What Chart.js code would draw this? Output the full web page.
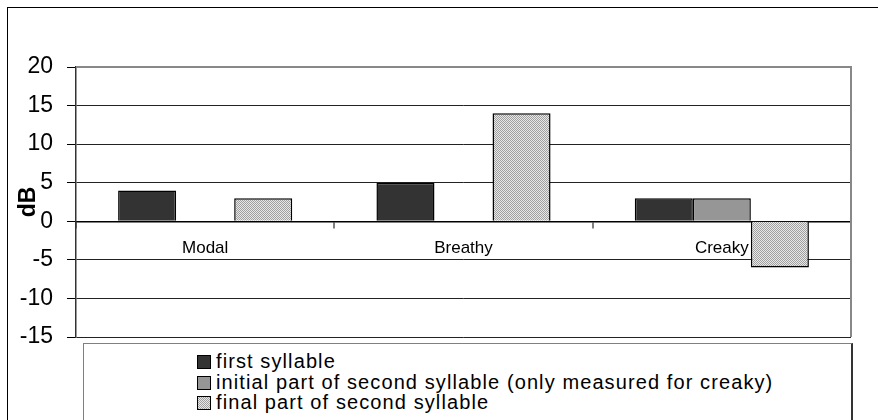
<!DOCTYPE html>
<html lang="en">
<head>
    <meta charset="UTF-8">
    <title>dB by phonation type</title>
    <script src="https://cdn.jsdelivr.net/npm/chart.js"></script>
    <style>
        html, body {
            margin: 0;
            padding: 0;
            width: 878px;
            height: 420px;
            overflow: hidden;
            background: #fff;
            font-family: 'Liberation Sans', Arial, sans-serif;
        }
        #frame {
            position: absolute;
            left: 7px;
            top: 7px;
            width: 900px;
            height: 450px;
            border: 1px solid #000;
        }
        #wrap {
            position: absolute;
            left: 0;
            top: 0;
            width: 878px;
            height: 420px;
        }
        #legend {
            position: absolute;
            left: 83px;
            top: 343px;
            width: 770px;
            height: 100px;
            border: 1px solid #808080;
            border-right: 2px solid #333;
            background: #fff;
            padding: 7px 0 0 113px;
            box-sizing: border-box;
        }
        .row {
            height: 20.5px;
            line-height: 20.5px;
            font-size: 20px;
            letter-spacing: 1.1px;
            color: #000;
            white-space: nowrap;
        }
        .sw {
            display: inline-block;
            width: 12px;
            height: 12px;
            border: 1px solid #000;
            margin-right: 5px;
            vertical-align: -1px;
        }
    </style>
</head>
<body>
    <div id="frame"></div>
    <div id="wrap"><canvas id="chart" width="878" height="420"></canvas></div>
    <div id="legend"></div>

    <script>
        const categories = ['Modal', 'Breathy', 'Creaky'];
        const seriesNames = [
            'first syllable',
            'initial part of second syllable (only measured for creaky)',
            'final part of second syllable'
        ];
        const firstSyllable = [4, 5, 3];
        const initialSecond = [null, null, 3];
        const finalSecond = [3, 14, -6];
        const yTicks = [-15, -10, -5, 0, 5, 10, 15, 20];

        const FONT = "'Liberation Sans', Arial, sans-serif";

        // dotted fill like the old spreadsheet pattern
        function makeDots() {
            const c = document.createElement('canvas');
            c.width = 2; c.height = 2;
            const g = c.getContext('2d');
            g.fillStyle = '#e8e8e8';
            g.fillRect(0, 0, 2, 2);
            g.fillStyle = '#a0a0a0';
            g.fillRect(0, 0, 1, 1);
            g.fillRect(1, 1, 1, 1);
            return g.createPattern(c, 'repeat');
        }
        const dots = makeDots();

        const fills = ['#333333', '#969696', dots];
        const cssFills = ['#333333', '#969696',
            'repeating-conic-gradient(#a0a0a0 0 25%, #e8e8e8 0 50%) 0 0/2px 2px'];
        const values = [firstSyllable, initialSecond, finalSecond];

        const legend = document.getElementById('legend');
        seriesNames.forEach((name, i) => {
            const row = document.createElement('div');
            row.className = 'row';
            const sw = document.createElement('span');
            sw.className = 'sw';
            sw.style.background = cssFills[i];
            row.appendChild(sw);
            row.appendChild(document.createTextNode(name));
            legend.appendChild(row);
        });

        const plotFrame = {
            id: 'plotFrame',
            afterDatasetsDraw(chart) {
                const a = chart.chartArea;
                const ctx = chart.ctx;
                ctx.save();
                ctx.strokeStyle = '#888';
                ctx.lineWidth = 2;
                ctx.beginPath();
                ctx.moveTo(a.left, a.top);
                ctx.lineTo(a.right, a.top);
                ctx.lineTo(a.right, a.bottom);
                ctx.stroke();
                ctx.restore();
            }
        };

        new Chart(document.getElementById('chart'), {
            type: 'bar',
            data: {
                labels: categories,
                datasets: values.map((v, i) => ({
                    label: seriesNames[i],
                    data: v,
                    backgroundColor: fills[i],
                    borderColor: '#000',
                    borderWidth: 1.5,
                    barPercentage: 1,
                    categoryPercentage: 0.674
                }))
            },
            options: {
                responsive: false,
                animation: false,
                layout: { padding: { top: 67, right: 27, bottom: 83, left: 0 } },
                plugins: {
                    legend: { display: false },
                    tooltip: { enabled: false }
                },
                scales: {
                    x: {
                        position: { y: 0 },
                        afterFit(scale) { scale.height = 0; },
                        grid: {
                            offset: true,
                            drawOnChartArea: false,
                            tickLength: 6,
                            color: '#808080',
                            lineWidth: 2
                        },
                        border: { display: true, color: '#000', width: 1.5 },
                        ticks: {
                            color: '#000',
                            padding: 11,
                            font: { family: FONT, size: 17 }
                        }
                    },
                    y: {
                        min: -15,
                        max: 20,
                        afterFit(scale) { scale.width = 76; },
                        afterBuildTicks(scale) {
                            scale.ticks = yTicks.map(v => ({ value: v }));
                        },
                        grid: {
                            color: ctx => ctx.tick && ctx.tick.value === 20 ? '#888' : '#222',
                            lineWidth: 1,
                            tickLength: 9,
                            tickColor: '#000'
                        },
                        border: { display: true, color: '#333', width: 1.5 },
                        ticks: {
                            color: '#000',
                            padding: 14,
                            font: { family: FONT, size: 23 }
                        },
                        title: {
                            display: true,
                            text: 'dB',
                            color: '#000',
                            padding: { top: 15, bottom: 0 },
                            font: { family: FONT, size: 23, weight: 'bold' }
                        }
                    }
                }
            },
            plugins: [plotFrame]
        });
    </script>
</body>
</html>
